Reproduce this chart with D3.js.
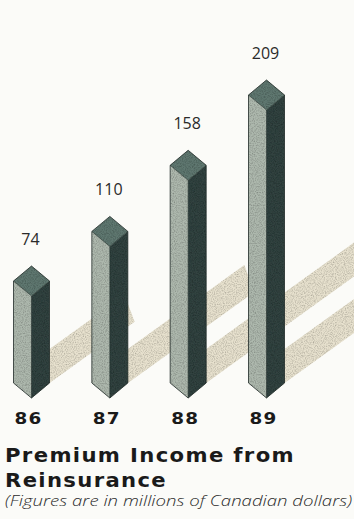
<!DOCTYPE html>
<html>
<head>
<meta charset="utf-8">
<script src="https://cdn.jsdelivr.net/npm/d3@7"></script>
<style>
  html, body { margin: 0; padding: 0; background: #fbfbf8; }
  svg { display: block; }
</style>
</head>
<body>
<svg id="chart" width="354" height="519"></svg>
<script>
// Premium income from reinsurance, millions of Canadian dollars
const years = ["86", "87", "88", "89"];
const values = [74, 110, 158, 209];
const titleLines = ["Premium Income from", "Reinsurance"];
const subtitle = "(Figures are in millions of Canadian dollars)";

const svg = d3.select("#chart");

// front edge of each prism
const x = d3.scalePoint().domain(years).range([31.5, 266.5]);
// height of the front edge
const y = d3.scaleLinear().domain([0, 209]).range([398, 110]);

const halfW = 18;   // half the prism width
const dy = 15;      // vertical drop of the isometric top
const shadowSlope = 0.72;
const shadowThick = 34;
const shadowPerUnit = 1.15;

const data = years.map((yr, i) => ({ year: yr, value: values[i] }));

// print grain
const defs = svg.append("defs");
const grain = defs.append("filter").attr("id", "grain")
  .attr("x", 0).attr("y", 0).attr("width", 1).attr("height", 1);
grain.append("feTurbulence").attr("type", "fractalNoise")
  .attr("baseFrequency", 0.9).attr("numOctaves", 2).attr("seed", 3).attr("result", "noise");
grain.append("feColorMatrix").attr("in", "noise").attr("type", "matrix")
  .attr("values", "0 0 0 0 0  0 0 0 0 0  0 0 0 0 0  0 0 0 -0.9 0.55").attr("result", "dots");
grain.append("feComposite").attr("in", "dots").attr("in2", "SourceGraphic").attr("operator", "in").attr("result", "clipped");
const gm = grain.append("feMerge");
gm.append("feMergeNode").attr("in", "SourceGraphic");
gm.append("feMergeNode").attr("in", "clipped");

const line = d3.line();

// shadows on the floor, drawn first so the prisms hide them
const shadows = svg.append("g").attr("class", "shadows");
data.forEach(d => {
  const fx = x(d.year);
  const fbot = y(0);
  const base = fbot - dy;
  const sx = fx + halfW;
  const lower = px => base - shadowSlope * (px - sx);
  const x0 = fx, x1 = sx + shadowPerUnit * d.value;
  // end of the stripe is cut on a slant, like the shadow of the top face
  const pts = [[x0, lower(x0)], [x1, lower(x1)], [x1 - 10, lower(x1 - 10) - shadowThick], [x0, lower(x0) - shadowThick]];
  shadows.append("path")
    .attr("d", line(pts) + "Z")
    .attr("fill", "#e7e1ce")
    .attr("filter", "url(#grain)");
});

// prisms
const bars = svg.append("g").attr("class", "bars");
data.forEach(d => {
  const fx = x(d.year);
  const ftop = y(d.value);
  const fbot = y(0);
  const g = bars.append("g");
  const left = [[fx - halfW, ftop - dy], [fx, ftop], [fx, fbot], [fx - halfW, fbot - dy]];
  const right = [[fx, ftop], [fx + halfW, ftop - dy], [fx + halfW, fbot - dy], [fx, fbot]];
  const top = [[fx, ftop], [fx - halfW, ftop - dy], [fx, ftop - 2 * dy], [fx + halfW, ftop - dy]];
  g.append("path").attr("d", line(left) + "Z").attr("fill", "#adb8ad").attr("filter", "url(#grain)");
  g.append("path").attr("d", line(right) + "Z").attr("fill", "#314340").attr("filter", "url(#grain)");
  g.append("path").attr("d", line(top) + "Z").attr("fill", "#5f776f").attr("filter", "url(#grain)");
  const outline = [[fx - halfW, ftop - dy], [fx, ftop - 2 * dy], [fx + halfW, ftop - dy], [fx + halfW, fbot - dy], [fx, fbot], [fx - halfW, fbot - dy]];
  g.append("path").attr("d", line(outline) + "Z").attr("fill", "none")
    .attr("stroke", "#1f2a27").attr("stroke-width", 0.8).attr("stroke-linejoin", "round");
  g.append("path").attr("d", line([[fx - halfW, ftop - dy], [fx, ftop], [fx + halfW, ftop - dy]]))
    .attr("fill", "none").attr("stroke", "#1f2a27").attr("stroke-width", 0.6);
  g.append("path").attr("d", line([[fx, ftop], [fx, fbot]]))
    .attr("fill", "none").attr("stroke", "#1f2a27").attr("stroke-width", 0.6);

  // value label above the prism
  svg.append("text")
    .attr("x", fx - 1)
    .attr("y", ftop - 2 * dy - 21)
    .attr("text-anchor", "middle")
    .attr("font-family", "'Open Sans', 'Noto Sans', sans-serif")
    .attr("font-size", 16)
    .attr("fill", "#2a2a2a")
    .text(d.value);

  // year label
  svg.append("text")
    .attr("x", fx - 17)
    .attr("y", 424)
    .attr("font-family", "'DejaVu Sans', sans-serif")
    .attr("font-weight", "bold")
    .attr("font-size", 15)
    .attr("letter-spacing", 1)
    .attr("textLength", 28)
    .attr("lengthAdjust", "spacingAndGlyphs")
    .attr("fill", "#1a1a1a")
    .text(d.year);
});

// title, wide bold face
const titleWidths = [290, 162];
titleLines.forEach((t, i) => {
  svg.append("text")
    .attr("x", 5)
    .attr("y", 462 + i * 25)
    .attr("font-family", "'DejaVu Sans', sans-serif")
    .attr("font-weight", "bold")
    .attr("font-size", 19)
    .attr("letter-spacing", 1.2)
    .attr("textLength", titleWidths[i])
    .attr("lengthAdjust", "spacingAndGlyphs")
    .attr("fill", "#1a1a1a")
    .text(t);
});

svg.append("text")
  .attr("x", 5)
  .attr("y", 506)
  .attr("font-family", "'Open Sans', 'Noto Sans', sans-serif")
  .attr("font-style", "italic")
  .attr("font-weight", 300)
  .attr("font-size", 15)
  .attr("textLength", 347)
  .attr("lengthAdjust", "spacingAndGlyphs")
  .attr("fill", "#2a2a2a")
  .text(subtitle);
</script>
</body>
</html>
